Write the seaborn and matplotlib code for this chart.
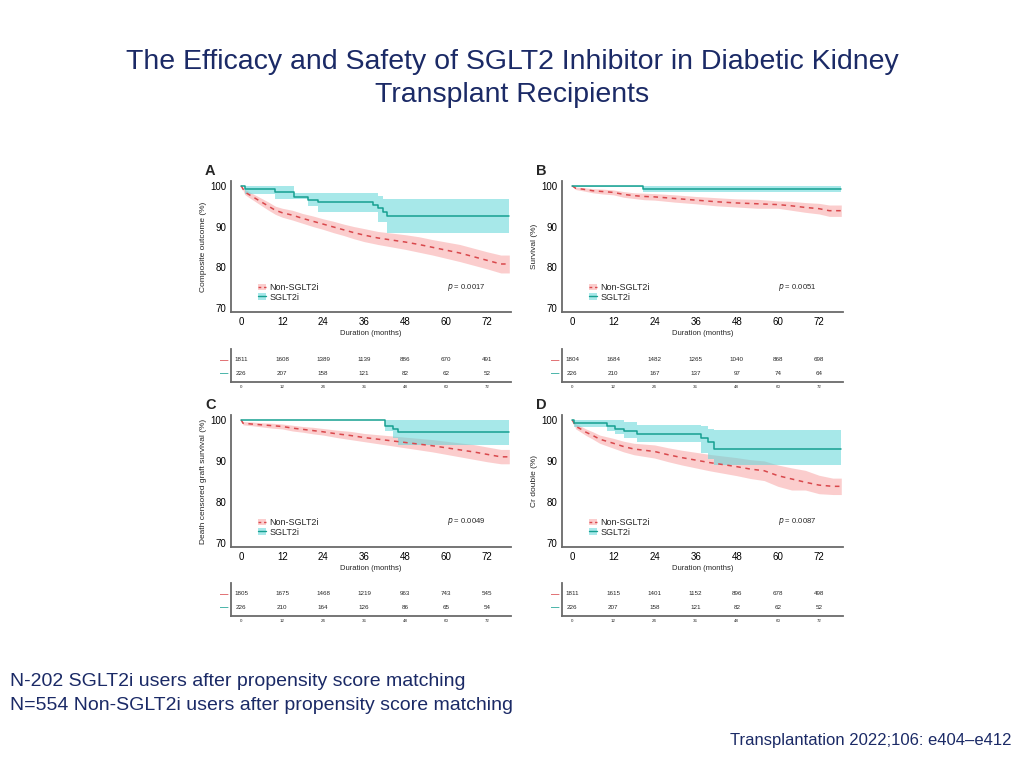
import matplotlib
matplotlib.use("Agg")
import matplotlib.pyplot as plt
import seaborn as sns
import pandas as pd
from matplotlib.patches import Patch
from matplotlib.lines import Line2D

sns.set_style("white")
plt.rcParams["font.family"] = ["Liberation Sans", "DejaVu Sans"]

# ---- data ----
T_END = 78.5
ticks_months = [0, 12, 24, 36, 48, 60, 72]

# Panel A - composite outcome
tA_n = [0, 1, 2, 4, 6, 8, 10, 12, 15, 18, 21, 24, 27, 30, 33, 36, 40, 44, 48, 52, 56, 60, 64, 68, 72, 76]
sA_n = [100, 98.5, 98.0, 97.0, 96.0, 95.0, 94.0, 93.4, 92.8, 92.0, 91.3, 90.6, 89.9, 89.2, 88.5, 87.9, 87.2, 86.7, 86.2, 85.6, 84.9, 84.2, 83.5, 82.6, 81.7, 80.8]
loA_n = [100, 97.9, 97.3, 96.2, 95.1, 94.0, 93.0, 92.3, 91.6, 90.8, 90.0, 89.3, 88.5, 87.8, 87.0, 86.3, 85.6, 85.0, 84.4, 83.7, 83.0, 82.2, 81.4, 80.5, 79.6, 78.6]
hiA_n = [100, 99.1, 98.7, 97.8, 96.9, 96.0, 95.0, 94.5, 94.0, 93.2, 92.6, 91.9, 91.3, 90.6, 90.0, 89.5, 88.8, 88.4, 88.0, 87.5, 86.8, 86.2, 85.6, 84.7, 83.8, 83.0]
tA_s = [0, 1, 10, 15.5, 19.5, 22.5, 38.5, 40, 41.5, 42.7]
sA_s = [100, 99.2, 98.5, 97.3, 96.6, 96.0, 95.3, 94.5, 93.5, 92.5]
loA_s = [100, 98.1, 96.7, 96.7, 95.0, 93.6, 93.6, 91.2, 91.2, 88.5]
hiA_s = [100, 100, 100, 98.2, 98.2, 98.2, 98.2, 97.6, 96.7, 96.7]
riskA_n = [1811, 1608, 1389, 1139, 886, 670, 491]
riskA_s = [226, 207, 158, 121, 82, 62, 52]

# Panel B - survival
tB_n = [0, 1, 3, 6, 9, 12, 15, 18, 21, 24, 30, 36, 42, 48, 54, 60, 64, 68, 72, 75]
sB_n = [100, 99.4, 99.2, 98.8, 98.6, 98.4, 97.9, 97.6, 97.4, 97.3, 96.9, 96.5, 96.1, 95.8, 95.6, 95.4, 95.1, 94.7, 94.4, 93.9]
loB_n = [100, 99.1, 98.8, 98.3, 98.0, 97.8, 97.2, 96.9, 96.6, 96.5, 96.0, 95.6, 95.1, 94.8, 94.5, 94.5, 94.0, 93.5, 93.1, 92.5]
hiB_n = [100, 99.7, 99.6, 99.3, 99.2, 99.0, 98.6, 98.3, 98.2, 98.1, 97.8, 97.4, 97.1, 96.8, 96.7, 96.3, 96.2, 95.9, 95.7, 95.3]
tB_s = [0, 20.5]
sB_s = [100, 99.2]
loB_s = [99.7, 98.5]
hiB_s = [100, 100]
riskB_n = [1804, 1684, 1482, 1265, 1040, 868, 698]
riskB_s = [226, 210, 167, 137, 97, 74, 64]

# Panel C - death censored graft survival
tC_n = [0, 0.5, 3, 6, 9, 12, 15, 18, 21, 24, 28, 32, 36, 40, 44, 48, 52, 56, 60, 64, 68, 72, 76]
sC_n = [100, 99.2, 99.0, 98.8, 98.6, 98.4, 98.0, 97.7, 97.4, 97.1, 96.6, 96.2, 95.7, 95.3, 94.9, 94.5, 94.1, 93.7, 93.2, 92.7, 92.2, 91.6, 91.0]
loC_n = [100, 98.8, 98.6, 98.3, 98.0, 97.8, 97.3, 97.0, 96.6, 96.3, 95.7, 95.2, 94.7, 94.2, 93.7, 93.2, 92.7, 92.2, 91.6, 91.0, 90.4, 89.8, 89.3]
hiC_n = [100, 99.6, 99.5, 99.3, 99.2, 99.0, 98.7, 98.4, 98.2, 97.9, 97.5, 97.2, 96.7, 96.4, 96.1, 95.8, 95.5, 95.2, 94.8, 94.4, 94.0, 93.4, 92.8]
tC_s = [0, 42, 44.5, 46]
sC_s = [100, 98.6, 97.8, 97.0]
loC_s = [100, 97.3, 95.5, 93.8]
hiC_s = [100, 100, 100, 100]
riskC_n = [1805, 1675, 1468, 1219, 963, 743, 545]
riskC_s = [226, 210, 164, 126, 86, 65, 54]

# Panel D - Cr double
tD_n = [0, 1, 2, 4, 6, 8, 10, 12, 15, 18, 21, 24, 28, 32, 36, 40, 44, 48, 52, 56, 58, 60, 64, 68, 72, 76]
sD_n = [100, 98.4, 98.0, 97.0, 96.2, 95.3, 94.8, 94.3, 93.5, 92.9, 92.6, 92.3, 91.5, 90.8, 90.2, 89.6, 89.1, 88.6, 88.0, 87.6, 87.0, 86.4, 85.6, 84.8, 84.1, 83.8]
loD_n = [100, 97.8, 97.3, 96.2, 95.3, 94.3, 93.7, 93.1, 92.2, 91.5, 91.1, 90.7, 89.8, 89.0, 88.3, 87.6, 87.0, 86.4, 85.7, 85.2, 84.5, 83.8, 82.9, 82.9, 82.0, 81.8]
hiD_n = [100, 99.0, 98.7, 97.8, 97.1, 96.3, 95.9, 95.5, 94.8, 94.3, 94.1, 93.9, 93.2, 92.6, 92.1, 91.6, 91.2, 90.8, 90.3, 90.0, 89.5, 89.0, 88.3, 87.7, 86.5, 85.8]
tD_s = [0, 0.5, 10, 12.5, 15, 19, 37.5, 39.5, 41.5]
sD_s = [100, 99.2, 98.6, 97.9, 97.3, 96.5, 95.7, 94.5, 93.0]
loD_s = [100, 98.3, 97.3, 96.5, 95.5, 94.5, 92.0, 90.5, 89.0]
hiD_s = [100, 100, 100, 100, 99.5, 98.7, 98.5, 97.8, 97.5]
riskD_n = [1811, 1615, 1401, 1152, 896, 678, 498]
riskD_s = [226, 207, 158, 121, 82, 62, 52]

panels = [
    dict(letter="A", ylabel="Composite outcome (%)", p="0.0017",
         n=(tA_n, sA_n, loA_n, hiA_n), s=(tA_s, sA_s, loA_s, hiA_s), risk=(riskA_n, riskA_s),
         box=(231, 181, 511, 312), rbox=(231, 349, 511, 382)),
    dict(letter="B", ylabel="Survival (%)", p="0.0051",
         n=(tB_n, sB_n, loB_n, hiB_n), s=(tB_s, sB_s, loB_s, hiB_s), risk=(riskB_n, riskB_s),
         box=(562, 181, 843, 312), rbox=(562, 349, 843, 382)),
    dict(letter="C", ylabel="Death censored graft survival (%)", p="0.0049",
         n=(tC_n, sC_n, loC_n, hiC_n), s=(tC_s, sC_s, loC_s, hiC_s), risk=(riskC_n, riskC_s),
         box=(231, 415, 511, 547), rbox=(231, 583, 511, 616)),
    dict(letter="D", ylabel="Cr double (%)", p="0.0087",
         n=(tD_n, sD_n, loD_n, hiD_n), s=(tD_s, sD_s, loD_s, hiD_s), risk=(riskD_n, riskD_s),
         box=(562, 415, 843, 547), rbox=(562, 583, 843, 616)),
]

RED_LINE, RED_FILL = "#D9484C", "#F8A5A5"
TEAL_LINE, TEAL_FILL = "#16A091", "#5FD6D8"
SPINE = "#6a6a6a"
NAVY = "#1B2A66"

W, H = 1024, 768
fig = plt.figure(figsize=(W / 100, H / 100), dpi=100)
fig.patch.set_facecolor("white")


def px_axes(x0, y0, x1, y1):
    return fig.add_axes([x0 / W, 1 - y1 / H, (x1 - x0) / W, (y1 - y0) / H])


def style_spines(ax):
    for side in ["top", "right"]:
        ax.spines[side].set_visible(False)
    for side in ["left", "bottom"]:
        ax.spines[side].set_color(SPINE)
        ax.spines[side].set_linewidth(1.3)


def draw_group(ax, grp, line_col, fill_col, ls, steps):
    # the big group has hundreds of tiny events, so its curve reads as smooth
    t, s, lo, hi = grp
    tt = list(t) + [T_END]
    ax.fill_between(tt, list(lo) + [lo[-1]], list(hi) + [hi[-1]],
                    step="post" if steps else None,
                    color=fill_col, alpha=0.55, linewidth=0)
    df = pd.DataFrame({"t": tt, "s": list(s) + [s[-1]]})
    sns.lineplot(data=df, x="t", y="s", ax=ax, color=line_col, linestyle=ls,
                 drawstyle="steps-post" if steps else "default",
                 linewidth=1.1, estimator=None)


for p in panels:
    ax = px_axes(*p["box"])
    draw_group(ax, p["n"], RED_LINE, RED_FILL, (0, (3, 3)), False)
    draw_group(ax, p["s"], TEAL_LINE, TEAL_FILL, "-", True)
    ax.set_xlim(-3, 79)
    ax.set_ylim(69, 101.2)
    ax.set_xticks(ticks_months)
    ax.set_yticks([70, 80, 90, 100])
    ax.tick_params(axis="both", labelsize=7, length=2, width=0.8, color=SPINE,
                   labelcolor="black", pad=1.5)
    ax.set_xlabel("Duration (months)", fontsize=5.5, labelpad=2)
    ax.set_ylabel(p["ylabel"], fontsize=6, labelpad=2)
    style_spines(ax)
    ax.text(-0.093, 1.02, p["letter"], transform=ax.transAxes, fontsize=10.5,
            fontweight="bold", ha="left", va="bottom")
    ax.text(0.77, 0.19, r"$\it{p}$ = " + p["p"], transform=ax.transAxes,
            fontsize=5.5, ha="left", va="center")
    handles = [(Patch(facecolor=RED_FILL, alpha=0.55, edgecolor="none"),
                Line2D([], [], color=RED_LINE, linestyle=(0, (2, 2)), lw=1)),
               (Patch(facecolor=TEAL_FILL, alpha=0.55, edgecolor="none"),
                Line2D([], [], color=TEAL_LINE, lw=1))]
    ax.legend(handles, ["Non-SGLT2i", "SGLT2i"], loc="lower left",
              bbox_to_anchor=(0.08, 0.045), fontsize=6.5, frameon=False,
              handlelength=0.9, handleheight=0.8, labelspacing=0.05,
              handletextpad=0.4, borderpad=0)

    # risk table
    rax = px_axes(*p["rbox"])
    rax.set_xlim(-3, 79)
    rax.set_ylim(0, 1)
    rn, rs = p["risk"]
    for x, v in zip(ticks_months, rn):
        rax.text(x, 0.67, str(v), fontsize=4.5, ha="center", va="center")
    for x, v in zip(ticks_months, rs):
        rax.text(x, 0.27, str(v), fontsize=4.5, ha="center", va="center")
    rax.set_xticks(ticks_months)
    rax.set_xticklabels([str(m) for m in ticks_months], fontsize=3.2)
    rax.set_yticks([0.67, 0.27])
    rax.set_yticklabels(["\u2014", "\u2014"], fontsize=6, fontweight="bold")
    for lab, col in zip(rax.get_yticklabels(), [RED_LINE, TEAL_LINE]):
        lab.set_color(col)
    rax.tick_params(axis="both", length=0, pad=2)
    style_spines(rax)

fig.text(0.5, 1 - 62 / H, "The Efficacy and Safety of SGLT2 Inhibitor in Diabetic Kidney",
         ha="center", va="center", fontsize=20.5, color=NAVY)
fig.text(0.5, 1 - 95 / H, "Transplant Recipients",
         ha="center", va="center", fontsize=20.5, color=NAVY)
fig.text(10 / W, 1 - 681 / H, "N-202 SGLT2i users after propensity score matching",
         ha="left", va="center", fontsize=14, color=NAVY)
fig.text(10 / W, 1 - 705 / H, "N=554 Non-SGLT2i users after propensity score matching",
         ha="left", va="center", fontsize=14, color=NAVY)
fig.text(1012 / W, 1 - 740 / H, "Transplantation 2022;106: e404\u2013e412",
         ha="right", va="center", fontsize=12, color=NAVY)

fig.savefig("out.png", dpi=100, facecolor="white")
